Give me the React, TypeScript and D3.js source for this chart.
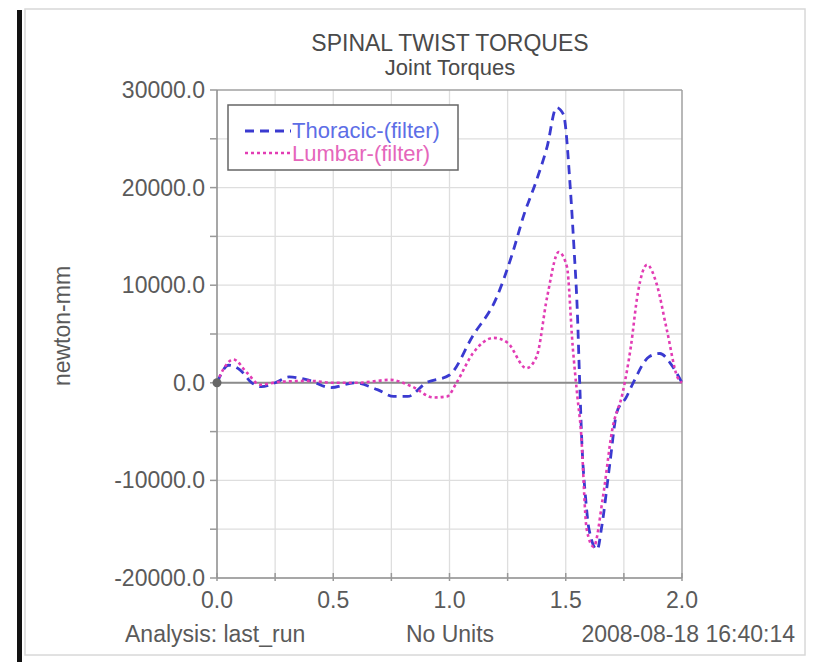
import React from 'react';
import * as d3 from 'd3';

// time (s) and torque (newton-mm)
const thoracic: [number, number][] = [
  [0, 0], [0.05, 1800], [0.1, 1300], [0.15, 0], [0.19, -400], [0.25, 0], [0.31, 600],
  [0.39, 300], [0.49, -500], [0.59, 0], [0.69, -700], [0.76, -1400], [0.82, -1400],
  [0.9, 0], [1.0, 800], [1.1, 4800], [1.2, 8600], [1.27, 13200], [1.32, 17200],
  [1.375, 20800], [1.42, 24200], [1.46, 28200], [1.49, 27500], [1.52, 19800],
  [1.535, 14000], [1.55, 7200], [1.56, 0], [1.57, -6500], [1.585, -11700], [1.6, -15000],
  [1.635, -17100], [1.655, -14700], [1.69, -8200], [1.72, -3000], [1.76, -1500],
  [1.79, 0], [1.86, 2700], [1.905, 3000], [1.95, 2000], [2.0, 0],
];

const lumbar: [number, number][] = [
  [0, 0], [0.03, 1500], [0.07, 2400], [0.13, 1000], [0.185, -200], [0.27, 100],
  [0.4, 200], [0.5, 0], [0.6, 0], [0.745, 300], [0.84, -400], [0.93, -1500],
  [0.99, -1400], [1.03, 0], [1.1, 3000], [1.19, 4600], [1.25, 4100], [1.33, 1500],
  [1.375, 2700], [1.42, 8800], [1.47, 13400], [1.505, 11900], [1.53, 3700],
  [1.55, -1400], [1.565, -4800], [1.59, -15000], [1.62, -16800], [1.66, -11700],
  [1.7, -4800], [1.745, -1000], [1.78, 3700], [1.81, 9200], [1.85, 12100],
  [1.89, 10200], [1.935, 5400], [1.98, 600], [2.0, 0],
];

const yTicks = [30000, 20000, 10000, 0, -10000, -20000];
const yGrid = [25000, 15000, 5000, -5000, -15000];
const xTicks = [0, 0.5, 1.0, 1.5, 2.0];
const xGrid = [0.25, 0.75, 1.25, 1.75];

const title = 'SPINAL TWIST TORQUES';
const subtitle = 'Joint Torques';
const yLabel = 'newton-mm';
const footer = ['Analysis:  last_run', 'No Units', '2008-08-18 16:40:14'];
const legendItems = [
  { name: 'Thoracic-(filter)', color: '#3a3ad0', text: '#5d6ee6', dash: '9,6', w: 2.8 },
  { name: 'Lumbar-(filter)', color: '#e23cb4', text: '#e566bb', dash: '3,3', w: 2.6 },
];

const W = 813;
const H = 662;
const left = 217, right = 682, top = 90, bottom = 578;
const font = '"Liberation Sans", Arial, sans-serif';
const fmt = (v: number) => d3.format('.1f')(v).replace('\u2212', '-');

export default function App() {
  const x = d3.scaleLinear().domain([0, 2]).range([left, right]);
  const y = d3.scaleLinear().domain([-20000, 30000]).range([bottom, top]);
  const line = d3.line<[number, number]>()
    .x(d => x(d[0]))
    .y(d => y(d[1]))
    .curve(d3.curveMonotoneX);

  const series = [thoracic, lumbar];

  return (
    <svg width={W} height={H} style={{ position: 'absolute', left: 0, top: 0, background: '#fff' }}
      fontFamily={font}>
      {/* outer frame */}
      <rect x={0} y={0} width={W} height={H} fill="#fff" />
      <rect x={25} y={9} width={780} height={646} fill="none" stroke="#d8d8d8" strokeWidth={1.5} />
      <rect x={17} y={10} width={5} height={H - 10} fill="#111" />

      {/* titles */}
      <text x={450} y={51} textAnchor="middle" fontSize={23} fill="#4a4a4a">{title}</text>
      <text x={450} y={75} textAnchor="middle" fontSize={22} fill="#4a4a4a">{subtitle}</text>

      {/* grid */}
      {[...xTicks.slice(1, -1), ...xGrid].map(t => (
        <line key={'gx' + t} x1={x(t)} x2={x(t)} y1={top} y2={bottom} stroke="#dedede" strokeWidth={1.3} />
      ))}
      {[...yTicks.slice(1, -1), ...yGrid].map(v => (
        <line key={'gy' + v} x1={left} x2={right} y1={y(v)} y2={y(v)} stroke="#dedede" strokeWidth={1.3} />
      ))}

      {/* plot border */}
      <line x1={left} x2={right} y1={top} y2={top} stroke="#a0a0a0" strokeWidth={1.5} />
      <line x1={right} x2={right} y1={top} y2={bottom} stroke="#a0a0a0" strokeWidth={1.5} />
      <line x1={left} x2={right} y1={bottom} y2={bottom} stroke="#8a8a8a" strokeWidth={1.5} />
      <line x1={left} x2={left} y1={top} y2={bottom} stroke="#8a8a8a" strokeWidth={1.5} />
      <line x1={left} x2={right} y1={y(0)} y2={y(0)} stroke="#8c8c8c" strokeWidth={2} />

      {/* y axis ticks + labels */}
      {[...yTicks, ...yGrid].map(v => (
        <line key={'ty' + v} x1={left - 7} x2={left} y1={y(v)} y2={y(v)} stroke="#999" strokeWidth={1.5} />
      ))}
      {yTicks.map(v => (
        <text key={'ly' + v} x={205} y={y(v) + 8} textAnchor="end" fontSize={23} fill="#5a5a5a">
          {fmt(v)}
        </text>
      ))}
      <text transform={`translate(70,326) rotate(-90)`} textAnchor="middle"
        fontSize={23} fill="#5a5a5a">{yLabel}</text>

      {/* x axis ticks + labels */}
      {[...xTicks, ...xGrid].map(t => (
        <line key={'tx' + t} x1={x(t)} x2={x(t)} y1={bottom - 5} y2={bottom + 3} stroke="#999" strokeWidth={1.5} />
      ))}
      {xTicks.map(t => (
        <text key={'lx' + t} x={x(t)} y={608} textAnchor="middle" fontSize={23} fill="#5a5a5a">
          {fmt(t)}
        </text>
      ))}

      {/* series */}
      {series.map((s, i) => (
        <path key={'s' + i} d={line(s) || ''} fill="none" stroke={legendItems[i].color}
          strokeWidth={legendItems[i].w} strokeDasharray={legendItems[i].dash} />
      ))}
      <circle cx={x(0)} cy={y(0)} r={4.5} fill="#666" />

      {/* legend */}
      <rect x={228} y={105} width={230} height={65} fill="#fff" stroke="#666" strokeWidth={1.5} />
      {legendItems.map((it, i) => (
        <g key={'lg' + i}>
          <line x1={245} x2={291} y1={131 + i * 22} y2={131 + i * 22} stroke={it.color}
            strokeWidth={it.w} strokeDasharray={it.dash} />
          <text x={292} y={138 + i * 23} fontSize={22} fill={it.text}>{it.name}</text>
        </g>
      ))}

      {/* footer */}
      <text x={125} y={642} fontSize={23} fill="#5a5a5a">{footer[0]}</text>
      <text x={450} y={642} textAnchor="middle" fontSize={23} fill="#5a5a5a">{footer[1]}</text>
      <text x={795} y={642} textAnchor="end" fontSize={23} fill="#5a5a5a">{footer[2]}</text>
    </svg>
  );
}
